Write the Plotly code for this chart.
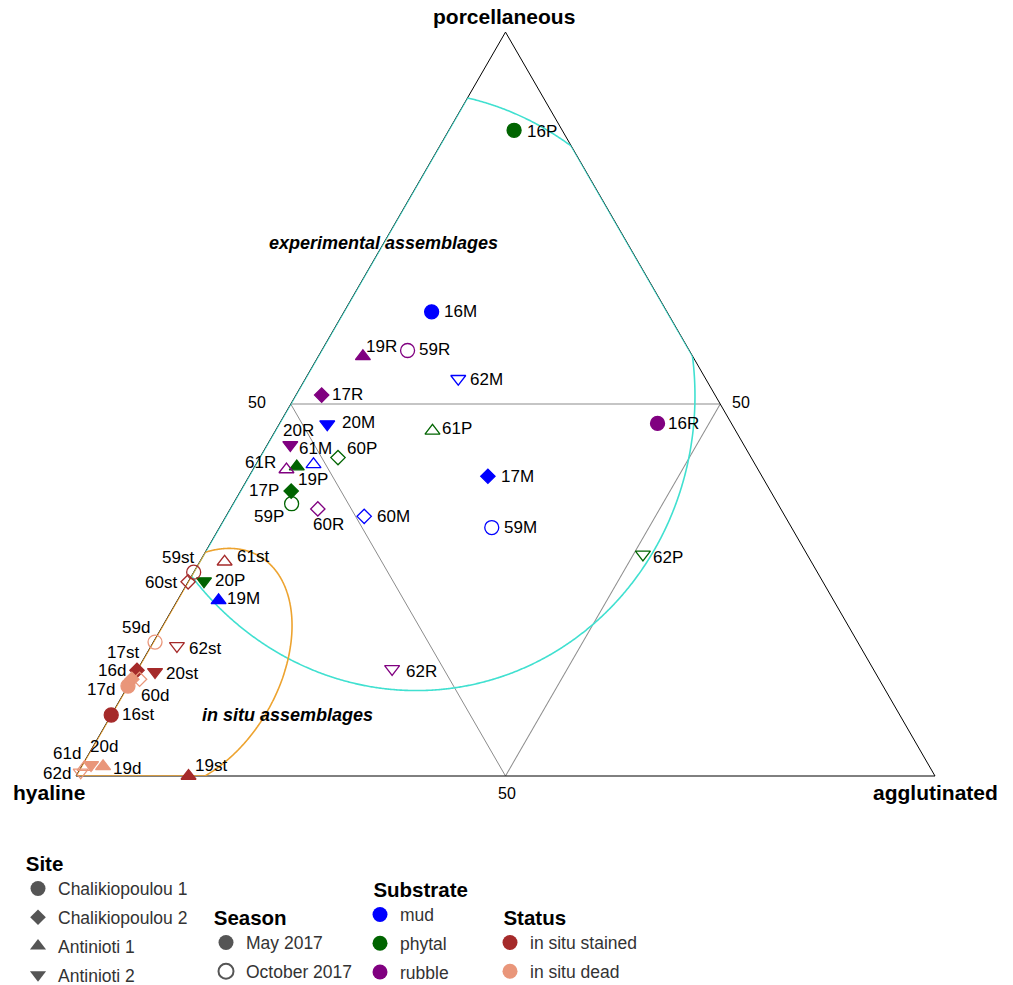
import numpy as np
import plotly.graph_objects as go

# Foraminiferal wall-type composition (%) per sample
sample_id = ["16P", "16M", "16R", "17M", "17P", "17R", "19M", "19P", "19R", "20M", "20P", "20R",
             "59M", "59P", "59R", "60M", "60P", "60R", "61M", "61P", "61R", "62M", "62P", "62R",
             "16st", "16d", "17st", "17d", "19st", "19d", "20st", "20d",
             "59st", "59d", "60st", "60d", "61st", "61d", "62st", "62d"]
porcellaneous = [86.8, 62.4, 47.4, 40.3, 38.3, 51.2, 23.6, 41.6, 56.4, 47.3, 26.2, 44.5,
                 33.4, 36.6, 57.2, 34.9, 42.8, 35.9, 41.9, 46.4, 41.2, 53.4, 29.8, 14.4,
                 8.2, 12.1, 14.2, 13.0, 0.0, 1.3, 14.0, 1.5,
                 27.4, 18.0, 26.1, 13.0, 28.8, 1.2, 17.5, 0.5]
hyaline = [5.6, 27.4, 8.6, 31.9, 55.8, 45.8, 71.6, 53.5, 38.4, 47.1, 72.0, 52.8,
           34.9, 56.6, 32.8, 49.0, 48.1, 53.9, 51.4, 35.3, 54.9, 28.8, 19.1, 56.0,
           91.8, 87.9, 85.8, 87.0, 86.9, 96.2, 83.8, 97.5,
           72.6, 81.8, 73.9, 86.1, 68.3, 98.4, 79.5, 99.2]
agglutinated = [7.6, 10.2, 44.0, 27.8, 5.9, 3.0, 4.8, 4.9, 5.2, 5.6, 1.8, 2.7,
                31.7, 6.8, 10.0, 16.1, 9.1, 10.2, 6.7, 18.3, 3.9, 17.8, 51.1, 29.6,
                0.0, 0.0, 0.0, 0.0, 13.1, 2.5, 2.2, 1.0,
                0.0, 0.2, 0.0, 0.9, 2.9, 0.4, 3.0, 0.3]

# Station codes -> site and season; sample suffix -> substrate / status
site_names = ["Chalikiopoulou 1", "Chalikiopoulou 2", "Antinioti 1", "Antinioti 2"]
site_of_code = {"16": 0, "17": 1, "19": 2, "20": 3, "59": 0, "60": 1, "61": 2, "62": 3}
season_names = ["May 2017", "October 2017"]
season_of_code = {"16": 0, "17": 0, "19": 0, "20": 0, "59": 1, "60": 1, "61": 1, "62": 1}
group_names = ["mud", "phytal", "rubble", "in situ stained", "in situ dead"]
group_of_suffix = {"M": 0, "P": 1, "R": 2, "st": 3, "d": 4}

# Styling
group_colors = ["#0000FF", "#006400", "#800080", "#A52A2A", "#E9967A"]
site_symbols = ["circle", "diamond", "triangle-up", "triangle-down"]
symbol_sizes = {"circle": 14, "diamond": 11, "triangle-up": 13, "triangle-down": 13}
FONT = "Liberation Sans, Arial, sans-serif"

# Label nudges in screen pixels (dx right, dy down) from each point
label_nudge = {
    "16P": (28, 1), "16M": (29, 0), "19R": (19, -10), "59R": (27, -1), "62M": (28, 1),
    "17R": (26, -1), "20M": (31, -2), "61P": (25, -2), "16R": (26, 0), "20R": (8, -14),
    "61M": (2, -16), "60P": (24, -9), "61R": (-26, -7), "19P": (16, 13), "17P": (-27, -1),
    "59P": (-23, 13), "60R": (11, 16), "60M": (29, 0), "17M": (30, 0), "59M": (29, 0),
    "62P": (25, 3), "62R": (29, 3), "20P": (26, -1), "19M": (25, -2), "61st": (28, -5),
    "59st": (-16, -15), "60st": (-27, 1), "59d": (-19, -15), "62st": (28, 3),
    "17st": (-14, -18), "16d": (-16, -15), "17d": (-31, 10), "60d": (15, 16),
    "20st": (27, 2), "16st": (27, 0), "61d": (-18, -14), "20d": (13, -18),
    "19d": (24, 2), "62d": (-24, 1), "19st": (22, -11),
}

# Outline ellipses in the unit-side triangle frame (X right, Y up, hyaline vertex at origin):
# centre X, centre Y, semi-axis 1, semi-axis 2, rotation of axis 1 (deg)
ELLIPSE_EXPERIMENTAL = (0.3904, 0.4485, 0.3297, 0.3495, -171.25)
ELLIPSE_IN_SITU = (0.1375, 0.1246, 0.0984, 0.1517, -29.9)

symbols, colors, sizes = [], [], []
for sid in sample_id:
    code, suffix = sid[:2], sid[2:]
    sym = site_symbols[site_of_code[code]]
    sizes.append(symbol_sizes[sym])
    if season_of_code[code] == 1:
        sym += "-open"
    symbols.append(sym)
    colors.append(group_colors[group_of_suffix[suffix]])

# Triangle placement on the page (px)
W, H = 1013, 985
X0, Y0, SIDE = 76, 776, 859
TRI_H = SIDE * np.sqrt(3) / 2


def to_px(a, c):
    """Composition fractions -> page pixels inside the ternary domain."""
    return X0 + c * SIDE + a * SIDE / 2, Y0 - a * TRI_H


def ellipse_frac(cx, cy, r1, r2, theta_deg, n=1500):
    t = np.linspace(0, 2 * np.pi, n, endpoint=False)
    th = np.radians(theta_deg)
    X = cx + r1 * np.cos(t) * np.cos(th) - r2 * np.sin(t) * np.sin(th)
    Y = cy + r1 * np.cos(t) * np.sin(th) + r2 * np.sin(t) * np.cos(th)
    a = Y * 2 / np.sqrt(3)
    c = X - a / 2
    return X, np.vstack([a, 1 - a - c, c])


def onto_triangle(abc):
    abc = np.clip(abc, 0, None)
    return abc / abc.sum(axis=0) * 100


def clamped_outline(params):
    """Ellipse whose parts beyond the triangle run along its edges."""
    _, abc = ellipse_frac(*params)
    abc = onto_triangle(abc)
    return np.hstack([abc, abc[:, :1]])


def corner_outline(params):
    """Inner arc of an ellipse closed through the hyaline vertex along the edges."""
    X, abc = ellipse_frac(*params)
    inside = (abc >= 0).all(axis=0)
    k = int(np.argmin(inside))
    X, abc, inside = np.roll(X, -k), np.roll(abc, -k, axis=1), np.roll(inside, -k)
    idx = np.where(inside)[0]
    runs = np.split(idx, np.where(np.diff(idx) > 1)[0] + 1)
    run = max(runs, key=lambda r: X[r].max())
    run = np.concatenate([[run[0] - 1], run, [(run[-1] + 1) % X.size]])
    arc = onto_triangle(abc[:, run])
    corner = np.array([[0.0], [100.0], [0.0]])
    return np.hstack([arc, corner, arc[:, :1]])


fig = go.Figure()

for outline, col in [(clamped_outline(ELLIPSE_EXPERIMENTAL), "#40E0D0"),
                     (corner_outline(ELLIPSE_IN_SITU), "#EDA32F")]:
    fig.add_trace(go.Scatterternary(a=outline[0], b=outline[1], c=outline[2], mode="lines",
                                    line=dict(color=col, width=1.6),
                                    hoverinfo="skip", showlegend=False, cliponaxis=False))

fig.add_trace(go.Scatterternary(
    a=porcellaneous, b=hyaline, c=agglutinated, mode="markers", text=sample_id,
    hovertemplate="%{text}<br>porcellaneous %{a}<br>hyaline %{b}<br>agglutinated %{c}<extra></extra>",
    marker=dict(symbol=symbols, color=colors, size=sizes, opacity=1,
                line=dict(color=colors, width=1.3)),
    cliponaxis=False, showlegend=False))

# Sample labels, placed beside each point (some fall outside the triangle)
label_font = dict(family=FONT, size=17, color="black")
annotations = []
for sid, pa, pc in zip(sample_id, porcellaneous, agglutinated):
    x, y = to_px(pa / 100, pc / 100)
    dx, dy = label_nudge[sid]
    annotations.append(dict(text=sid, x=(x + dx) / W, y=1 - (y + dy) / H,
                            xref="paper", yref="paper", xanchor="center", yanchor="middle",
                            showarrow=False, font=label_font))

# Legend keys
grey = "#555555"


def key(name, symbol, color, legend, group, size, line=None):
    fig.add_trace(go.Scatter(x=[None], y=[None], mode="markers", name=name,
                             marker=dict(symbol=symbol, color=color, size=size,
                                         line=line or dict(width=0)),
                             legend=legend, legendgroup=group, showlegend=True))


for i, name in enumerate(site_names):
    key(name, site_symbols[i], grey, "legend", f"site{i}", symbol_sizes[site_symbols[i]] + 1)
key(season_names[0], "circle", grey, "legend2", "season0", 15)
key(season_names[1], "circle-open", grey, "legend2", "season1", 15, dict(width=2, color=grey))
for i in range(3):
    key(group_names[i], "circle", group_colors[i], "legend3", f"sub{i}", 15)
for i in range(3, 5):
    key(group_names[i], "circle", group_colors[i], "legend4", f"stat{i}", 15)

tick_font = dict(family=FONT, size=16, color="black")
axis_style = dict(showgrid=True, gridcolor="#8c8c8c", gridwidth=1, linecolor="black", linewidth=1,
                  tickmode="array", tickvals=[50], ticktext=["50"], ticks="outside",
                  tickcolor="rgba(0,0,0,0)", tickfont=tick_font,
                  layer="below traces", title=dict(text=""))

legend_common = dict(xanchor="left", yanchor="top", bgcolor="rgba(0,0,0,0)",
                     font=dict(family=FONT, size=17.5, color="#333333"),
                     traceorder="grouped", tracegroupgap=3)


def legend_at(x_px, y_px, title, indent):
    return dict(x=x_px / W, y=1 - y_px / H,
                title=dict(text="&nbsp;" * indent + f"<b>{title}</b>",
                           font=dict(family=FONT, size=20.5, color="black")),
                **legend_common)


vertex_font = dict(family=FONT, size=21, color="black")
note_font = dict(family=FONT, size=18, color="black")


def note(text, x_px, y_px, font):
    return dict(text=text, x=x_px / W, y=1 - y_px / H, xref="paper", yref="paper",
                xanchor="center", yanchor="middle", showarrow=False, font=font)


# the "50" of the agglutinated axis sits just right of the right-edge midpoint
c50_x, c50_y = to_px(0.5, 0.5)

annotations += [
    note("<b>porcellaneous</b>", 504, 16, vertex_font),
    note("<b>hyaline</b>", 49, 792, vertex_font),
    note("<b>agglutinated</b>", 935, 792, vertex_font),
    note("<b><i>experimental assemblages</i></b>", 383, 243, note_font),
    note("<b><i>in situ assemblages</i></b>", 287, 715, note_font),
    note("50", c50_x + 21, c50_y - 2, tick_font),
]

fig.update_layout(
    width=W, height=H, margin=dict(l=0, r=0, t=0, b=0, autoexpand=False),
    paper_bgcolor="white", plot_bgcolor="white", showlegend=True,
    xaxis=dict(visible=False), yaxis=dict(visible=False),
    ternary=dict(sum=100, bgcolor="white",
                 domain=dict(x=[X0 / W, (X0 + SIDE) / W], y=[1 - Y0 / H, 1 - (Y0 - TRI_H) / H]),
                 aaxis=dict(axis_style, ticklen=22), baxis=dict(axis_style, ticklen=3),
                 caxis=dict(axis_style, showticklabels=False)),
    legend=legend_at(18, 844, "Site", 1),
    legend2=legend_at(206, 898, "Season", 1),
    legend3=legend_at(360, 870, "Substrate", 2),
    legend4=legend_at(490, 898, "Status", 2),
    annotations=annotations,
)

fig.write_html("out.html")
